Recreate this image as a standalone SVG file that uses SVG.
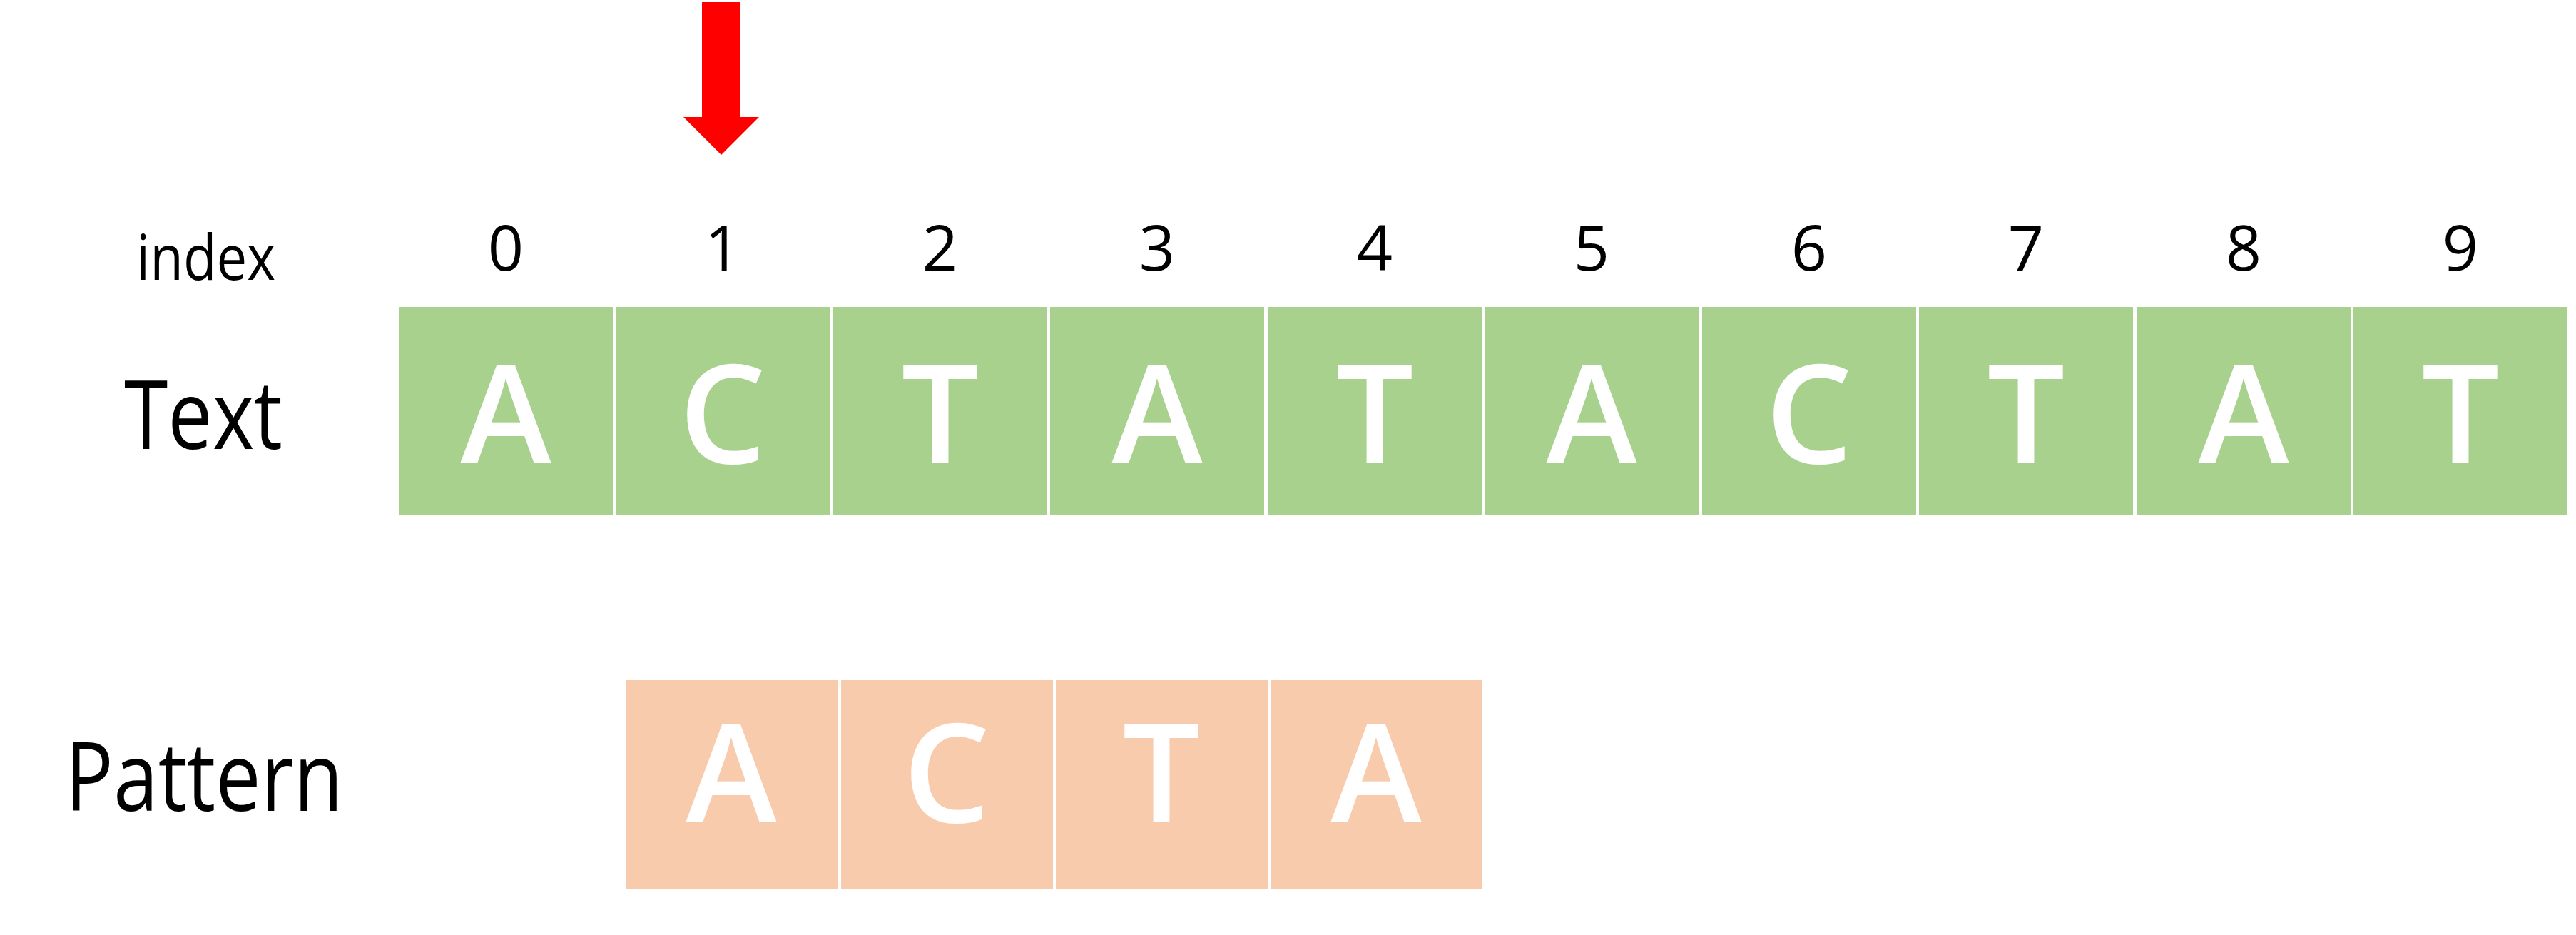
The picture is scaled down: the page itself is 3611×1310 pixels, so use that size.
<svg xmlns="http://www.w3.org/2000/svg" width="3611" height="1310" viewBox="0 0 3611 1310">
<style>
.bg{fill:#ffffff}
.tbox{fill:#A9D18E}
.pbox{fill:#F8CBAD}
.ch{font-family:"Open Sans","Liberation Sans",sans-serif;font-weight:600;font-size:193px;fill:#ffffff;text-anchor:middle}
.idx{font-family:"Open Sans","Liberation Sans",sans-serif;font-size:88px;fill:#000000;text-anchor:middle}
.lbl{font-family:"Open Sans","Liberation Sans",sans-serif;fill:#000000}
.arrow{fill:#FF0000}
</style>
<rect class="bg" x="0" y="0" width="3611" height="1310"/>
<g id="arrow">
<polygon class="arrow" points="984,3 1037,3 1037,164 1064,164 1011,217 958,164 984,164"/>
</g>
<g id="labels">
<text class="lbl" x="191" y="392" font-size="87" textLength="195" lengthAdjust="spacingAndGlyphs">index</text>
<text class="lbl" x="174" y="629" font-size="133" textLength="222" lengthAdjust="spacingAndGlyphs">Text</text>
<text class="lbl" x="91" y="1136" font-size="133" textLength="390" lengthAdjust="spacingAndGlyphs">Pattern</text>
</g>
<g id="indices">
<text class="idx" x="709" y="379">0</text>
<text class="idx" x="1013" y="379">1</text>
<text class="idx" x="1318" y="379">2</text>
<text class="idx" x="1622" y="379">3</text>
<text class="idx" x="1927" y="379">4</text>
<text class="idx" x="2231" y="379">5</text>
<text class="idx" x="2536" y="379">6</text>
<text class="idx" x="2840" y="379">7</text>
<text class="idx" x="3145" y="379">8</text>
<text class="idx" x="3449" y="379">9</text>
</g>
<g id="text-row">
<g id="t0"><rect class="tbox" x="559" y="430" width="300" height="292"/><text class="ch" x="709" y="649">A</text></g>
<g id="t1"><rect class="tbox" x="863" y="430" width="300" height="292"/><text class="ch" x="1013" y="649">C</text></g>
<g id="t2"><rect class="tbox" x="1168" y="430" width="300" height="292"/><text class="ch" x="1318" y="649">T</text></g>
<g id="t3"><rect class="tbox" x="1472" y="430" width="300" height="292"/><text class="ch" x="1622" y="649">A</text></g>
<g id="t4"><rect class="tbox" x="1777" y="430" width="300" height="292"/><text class="ch" x="1927" y="649">T</text></g>
<g id="t5"><rect class="tbox" x="2081" y="430" width="300" height="292"/><text class="ch" x="2231" y="649">A</text></g>
<g id="t6"><rect class="tbox" x="2386" y="430" width="300" height="292"/><text class="ch" x="2536" y="649">C</text></g>
<g id="t7"><rect class="tbox" x="2690" y="430" width="300" height="292"/><text class="ch" x="2840" y="649">T</text></g>
<g id="t8"><rect class="tbox" x="2995" y="430" width="300" height="292"/><text class="ch" x="3145" y="649">A</text></g>
<g id="t9"><rect class="tbox" x="3299" y="430" width="300" height="292"/><text class="ch" x="3449" y="649">T</text></g>
</g>
<g id="pattern-row">
<g id="p0"><rect class="pbox" x="877" y="953" width="297" height="292"/><text class="ch" x="1025" y="1152">A</text></g>
<g id="p1"><rect class="pbox" x="1179" y="953" width="297" height="292"/><text class="ch" x="1327" y="1152">C</text></g>
<g id="p2"><rect class="pbox" x="1480" y="953" width="297" height="292"/><text class="ch" x="1628" y="1152">T</text></g>
<g id="p3"><rect class="pbox" x="1781" y="953" width="297" height="292"/><text class="ch" x="1929" y="1152">A</text></g>
</g>
</svg>
